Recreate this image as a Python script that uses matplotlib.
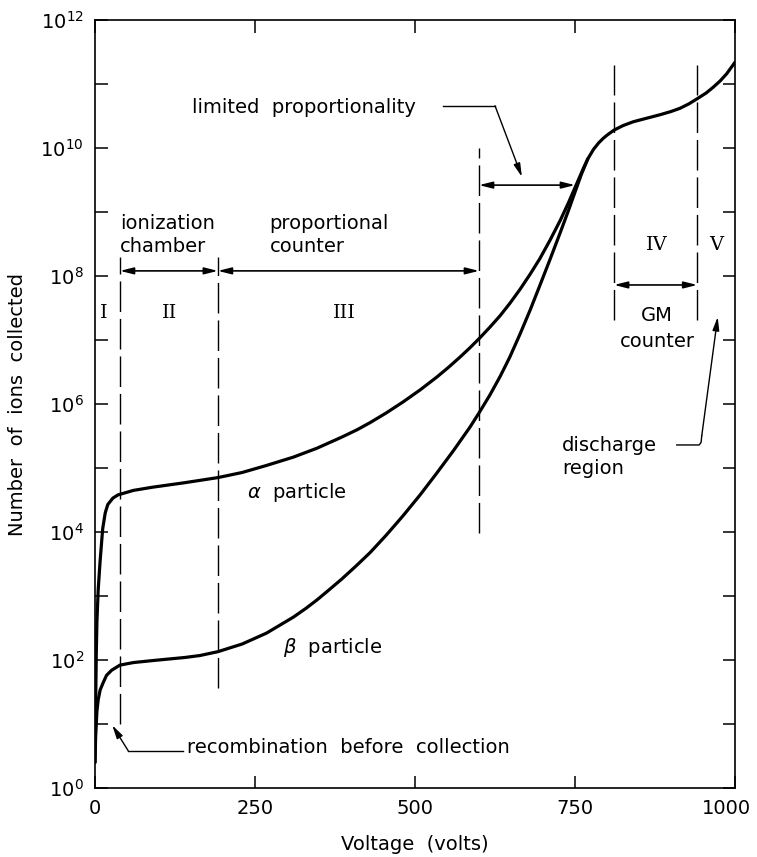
import matplotlib
matplotlib.use("Agg")
import matplotlib.pyplot as plt
import matplotlib.transforms as mtransforms
import numpy as np

# ---------------- data ----------------
alpha_volts = [0, 1, 2, 3, 5, 8, 12, 16, 20, 28, 36, 60, 90, 140, 192, 230, 268,
               310, 347, 385, 410, 430, 455, 481, 508, 534, 552, 570, 586, 601,
               617, 633, 648, 664, 680, 695, 711, 727, 740, 750, 763, 770, 779,
               787, 794, 800, 811, 825, 841, 860, 883, 900, 914, 928, 941, 955,
               966, 977, 987, 1000]
alpha_log10 = [0.4, 1.3, 2.1, 2.6, 3.1, 3.55, 4.05, 4.3, 4.43, 4.53, 4.58, 4.65,
               4.70, 4.77, 4.85, 4.93, 5.04, 5.17, 5.31, 5.48, 5.60, 5.71, 5.86,
               6.03, 6.22, 6.42, 6.57, 6.73, 6.88, 7.03, 7.20, 7.38, 7.57, 7.79,
               8.03, 8.27, 8.56, 8.87, 9.15, 9.38, 9.68, 9.83, 9.98, 10.08,
               10.15, 10.20, 10.28, 10.35, 10.41, 10.46, 10.52, 10.57, 10.62,
               10.69, 10.77, 10.86, 10.95, 11.05, 11.16, 11.34]

beta_volts = [0, 1, 3, 5, 8, 12.5, 18, 26, 39, 60, 89, 141, 164, 192, 230, 268,
              310, 330, 347, 365, 385, 408, 430, 455, 481, 508, 534, 560, 586,
              600, 617, 633, 648, 664, 680, 695, 711, 727, 740, 750, 760, 770]
beta_log10 = [0.4, 0.8, 1.2, 1.38, 1.53, 1.64, 1.76, 1.84, 1.92, 1.96, 1.99,
              2.04, 2.07, 2.13, 2.25, 2.42, 2.67, 2.81, 2.94, 3.09, 3.26, 3.47,
              3.68, 3.95, 4.25, 4.58, 4.92, 5.27, 5.64, 5.86, 6.14, 6.43, 6.73,
              7.09, 7.47, 7.85, 8.26, 8.68, 9.03, 9.31, 9.59, 9.83]

boundary_volts = [39, 192, 600, 811, 941]
boundary_lo = [1.0, 1.57, 3.98, 7.31, 7.31]     # log10 of bottom end
boundary_hi = [8.3, 8.3, 10.0, 11.3, 11.3]      # log10 of top end

region_names = ["I", "II", "III", "IV", "V"]
region_x = [14, 117, 390, 878, 970]
region_y = [7.42, 7.42, 7.42, 8.48, 8.48]

x_ticks = [0, 250, 500, 750, 1000]
y_exponents = list(range(0, 13))

FS = 14
plt.rcParams['font.family'] = ['DejaVu Sans']
plt.rcParams['mathtext.fontset'] = 'dejavusans'

fig = plt.figure(figsize=(7.57, 8.57), dpi=100)
ax = fig.add_axes([95 / 757, 1 - 788 / 857, 640 / 757, 768 / 857])
ax.set_yscale('log')
ax.set_xlim(0, 1000)
ax.set_ylim(1, 1e12)

# curves
ax.plot(alpha_volts, 10.0 ** np.array(alpha_log10), color='black', lw=2.3,
        solid_capstyle='round', solid_joinstyle='round')
ax.plot(beta_volts, 10.0 ** np.array(beta_log10), color='black', lw=2.3,
        solid_capstyle='round', solid_joinstyle='round')

# dashed region boundaries
for v, lo, hi in zip(boundary_volts, boundary_lo, boundary_hi):
    ax.plot([v, v], [10 ** lo, 10 ** hi], color='black', lw=1.0,
            linestyle=(0, (22, 5)))

# region labels
for name, x, y in zip(region_names, region_x, region_y):
    ax.text(x, 10 ** y, name, ha='center', va='center', fontsize=FS,
            family='DejaVu Serif')

# double arrows
dbl = dict(arrowstyle='<|-|>,head_length=0.8,head_width=0.2', color='black',
           lw=1.2, shrinkA=0, shrinkB=0)
ax.annotate('', xy=(39, 10 ** 8.08), xytext=(192, 10 ** 8.08), arrowprops=dbl)
ax.annotate('', xy=(192, 10 ** 8.08), xytext=(600, 10 ** 8.08), arrowprops=dbl)
ax.annotate('', xy=(600, 10 ** 9.42), xytext=(750, 10 ** 9.42), arrowprops=dbl)
ax.annotate('', xy=(811, 10 ** 7.86), xytext=(941, 10 ** 7.86), arrowprops=dbl)

# text labels
ax.text(39, 10 ** 8.64, "ionization\nchamber", ha='left', va='center',
        fontsize=FS, linespacing=1.25)
ax.text(273, 10 ** 8.64, "proportional\ncounter", ha='left', va='center',
        fontsize=FS, linespacing=1.25)
ax.text(878, 10 ** 7.18, "GM\ncounter", ha='center', va='center',
        fontsize=FS, linespacing=1.45)
ax.text(730, 10 ** 5.17, "discharge\nregion", ha='left', va='center',
        fontsize=FS, linespacing=1.25)
ax.text(237, 10 ** 4.62, r"$\alpha$  particle", ha='left', va='center',
        fontsize=FS)
ax.text(293, 10 ** 2.19, r"$\beta$  particle", ha='left', va='center',
        fontsize=FS)
ax.text(151, 10 ** 10.64, "limited  proportionality", ha='left', va='center',
        fontsize=FS)
ax.text(144, 10 ** 0.64, "recombination  before  collection", ha='left',
        va='center', fontsize=FS)

# leader lines
single = dict(arrowstyle='-|>,head_length=0.8,head_width=0.2', color='black',
              lw=1.0, shrinkA=0, shrinkB=0)
ax.plot([544, 625], [10 ** 10.66, 10 ** 10.66], color='black', lw=1.0)
ax.annotate('', xy=(667, 10 ** 9.55), xytext=(625, 10 ** 10.66),
            arrowprops=single)

ax.plot([138, 52], [10 ** 0.58, 10 ** 0.58], color='black', lw=1.0)
ax.annotate('', xy=(27, 10 ** 0.98), xytext=(52, 10 ** 0.58),
            arrowprops=single)

ax.plot([909, 944, 947, 948], [10 ** 5.36, 10 ** 5.36, 10 ** 5.40, 10 ** 5.5],
        color='black', lw=1.0)
ax.annotate('', xy=(973, 10 ** 7.36), xytext=(948, 10 ** 5.5),
            arrowprops=single)

# axes styling
ax.set_xticks(x_ticks)
ax.set_xticklabels([str(t) for t in x_ticks], fontsize=FS)
ax.set_yticks([10.0 ** e for e in y_exponents])
ax.set_yticklabels([r"$10^{%d}$" % e if e % 2 == 0 else "" for e in y_exponents],
                   fontsize=FS)
ax.minorticks_off()
ax.tick_params(axis='both', which='major', direction='in', length=9,
               width=1.1, top=True, right=True, pad=8)
for s in ax.spines.values():
    s.set_linewidth(1.2)

# keep the "1000" label inside the canvas as in the reference
last = ax.get_xticklabels()[-1]
last.set_transform(last.get_transform() +
                   mtransforms.ScaledTranslation(-9 / 100, 0,
                                                 fig.dpi_scale_trans))

ax.set_xlabel("Voltage  (volts)", fontsize=FS, labelpad=12)
ax.set_ylabel("Number  of  ions  collected", fontsize=FS, labelpad=10)

fig.savefig("out.png", dpi=100)
